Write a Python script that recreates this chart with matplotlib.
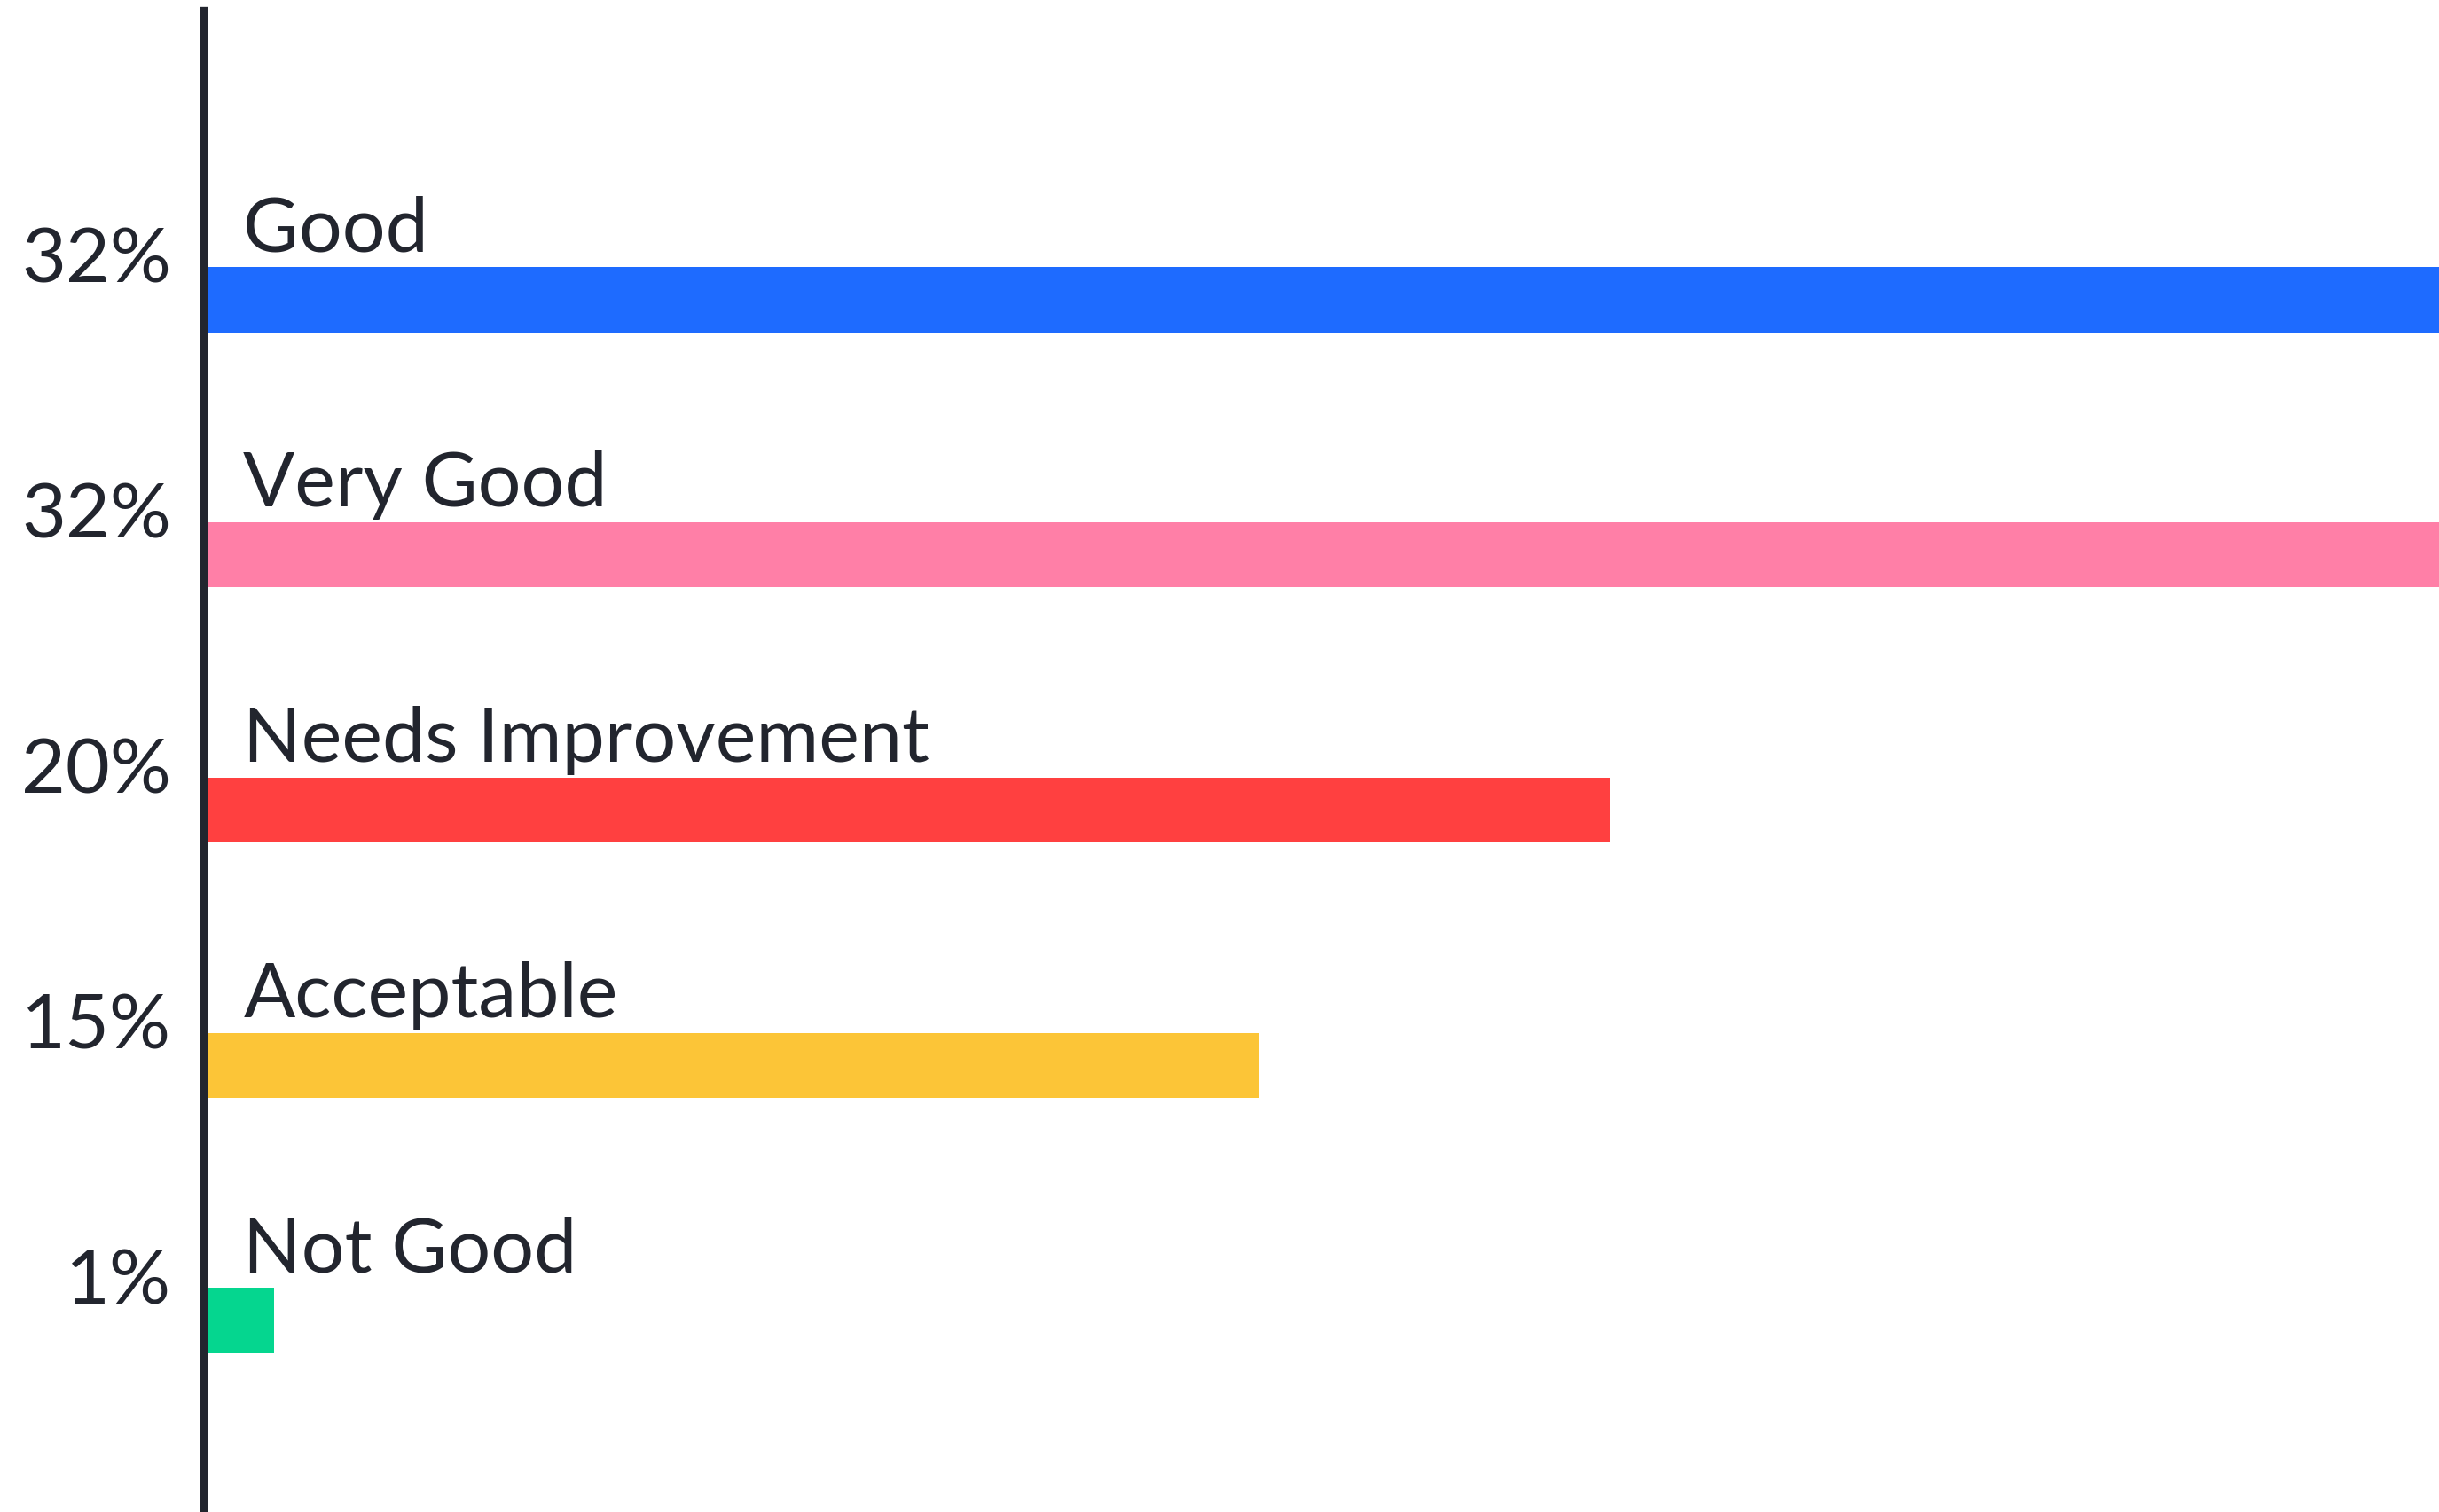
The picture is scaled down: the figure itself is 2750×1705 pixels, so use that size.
import matplotlib
matplotlib.use("Agg")
import matplotlib.pyplot as plt

# survey result, top to bottom
categories = ["Good", "Very Good", "Needs Improvement", "Acceptable", "Not Good"]
values = [32, 32, 20, 15, 1]
pct_labels = ["32%", "32%", "20%", "15%", "1%"]
colors = ["#1E6BFF", "#FF7FA7", "#FF4040", "#FCC537", "#05D68F"]

TEXT_COLOR = "#22252E"

plt.rcParams['font.family'] = ['Lato', 'DejaVu Sans']

fig = plt.figure(figsize=(27.5, 17.05), dpi=100)
# axes starts at the vertical line and runs to the right edge
ax = fig.add_axes([230 / 2750, 0, 1 - 230 / 2750, 1])

ypos = list(range(len(categories)))
bar_h = 0.255
ax.barh(ypos, values, height=bar_h, color=colors, zorder=1)

ax.set_xlim(0, 31.8)
ax.set_ylim(4.75, -1.174)

for sp in ["top", "right", "bottom"]:
    ax.spines[sp].set_visible(False)
ax.spines["left"].set_color(TEXT_COLOR)
ax.spines["left"].set_linewidth(6)
ax.spines["left"].set_bounds(-1.132, 4.75)
ax.spines["left"].set_zorder(3)
ax.set_xticks([])
ax.set_yticks([])

fs = 62
for y, cat, pct in zip(ypos, categories, pct_labels):
    # category name sits just above its bar
    ax.text(0.56, y - bar_h / 2 - 0.062, cat, fontsize=fs, color=TEXT_COLOR,
            ha="left", va="baseline")
    # percentage to the left of the axis line
    ax.text(-0.0147, y - 0.066, pct, fontsize=fs, color=TEXT_COLOR,
            ha="right", va="baseline", transform=ax.get_yaxis_transform(),
            clip_on=False)

fig.savefig("out.png", dpi=100, facecolor="white")
